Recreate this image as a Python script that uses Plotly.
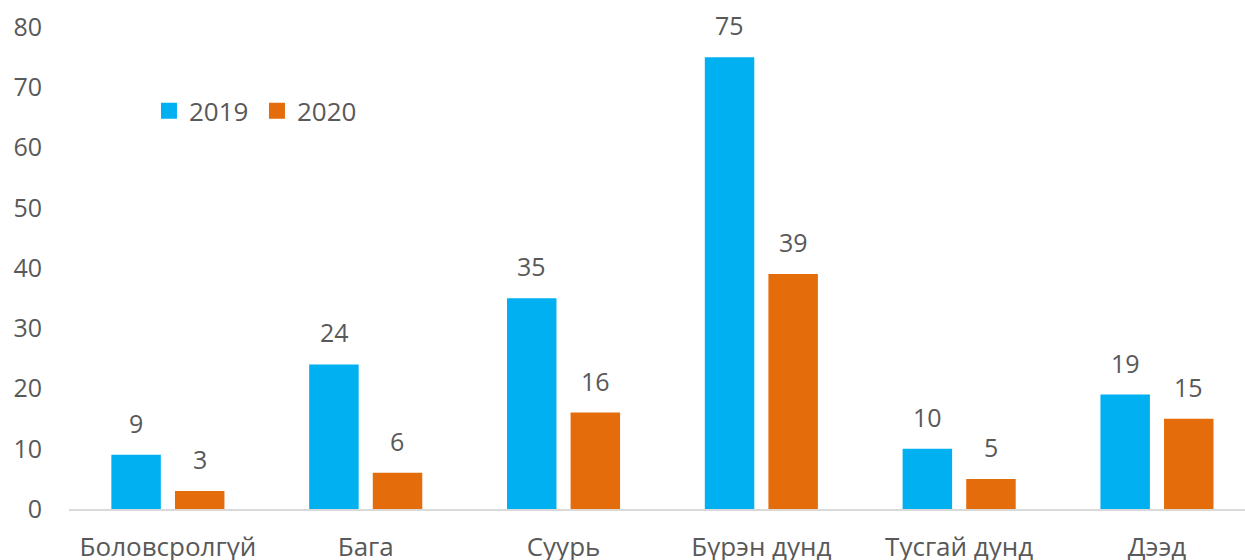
import plotly.graph_objects as go

categories = ["Боловсролгүй", "Бага", "Суурь", "Бүрэн дунд", "Тусгай дунд", "Дээд"]
values_2019 = [9, 24, 35, 75, 10, 19]
values_2020 = [3, 6, 16, 39, 5, 15]
y_ticks = [0, 10, 20, 30, 40, 50, 60, 70, 80]

gray = "#595959"
blue = "#00B0F0"
orange = "#E46C0A"
font_family = "Open Sans, Noto Sans, sans-serif"
fs = 25

fig = go.Figure()
fig.add_trace(go.Bar(x=categories, y=values_2019, name="2019", showlegend=False,
                     marker=dict(color=blue, line=dict(width=0))))
fig.add_trace(go.Bar(x=categories, y=values_2020, name="2020", showlegend=False,
                     marker=dict(color=orange, line=dict(width=0))))

# legend entries with bigger square swatches
for name, col in [("2019", blue), ("2020", orange)]:
    fig.add_trace(go.Scatter(x=[None], y=[None], mode="markers", name=name,
                             marker=dict(symbol="square", size=17, color=col)))

# value labels above the bars
shift = 31.7
for vals, xs in [(values_2019, -shift), (values_2020, shift)]:
    for cat, v in zip(categories, vals):
        fig.add_annotation(x=cat, y=v, text=str(v), showarrow=False,
                           xshift=xs, yshift=13, yanchor="bottom",
                           font=dict(size=fs, color=gray))

fig.update_layout(
    width=1245, height=560,
    margin=dict(l=69, r=0, t=27, b=51, autoexpand=False),
    paper_bgcolor="white", plot_bgcolor="white",
    font=dict(family=font_family, size=fs, color=gray),
    barmode="group", bargap=0.357, bargroupgap=0.222,
    showlegend=True,
    legend=dict(
        orientation="h", x=0.068, y=0.826, xanchor="left", yanchor="middle",
        font=dict(size=26, color=gray), bgcolor="rgba(0,0,0,0)",
        traceorder="normal", itemwidth=30, entrywidth=63,
    ),
    xaxis=dict(
        range=[-0.5, 5.445],
        showline=True, linecolor="#D9D9D9", linewidth=2, automargin=False,
        ticks="", ticklabelstandoff=14,
        tickfont=dict(size=26, color=gray), showgrid=False,
    ),
    yaxis=dict(
        range=[0, 80], tickvals=y_ticks, showgrid=False, zeroline=False,
        showline=False, ticks="", ticklabelstandoff=26,
        tickfont=dict(size=fs, color=gray), automargin=False,
    ),
)

fig.write_html("out.html", config={"displayModeBar": False},
               post_script="document.body.style.margin='0';")
